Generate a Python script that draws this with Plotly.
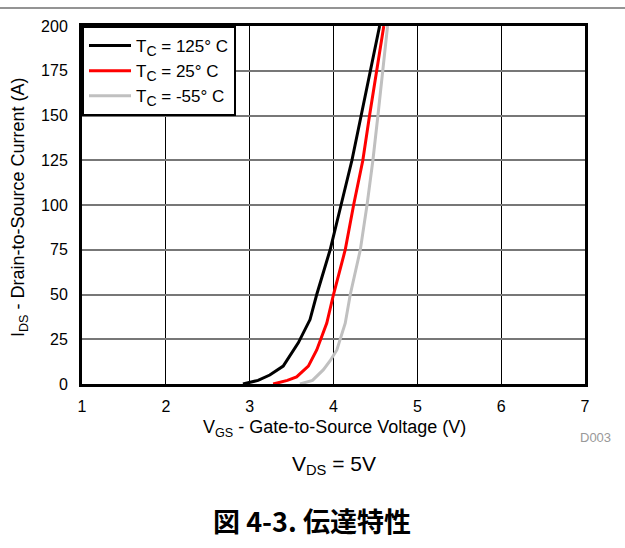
import plotly.graph_objects as go

# Data (VGS in V, IDS in A)
vgs_125 = [2.92, 3.10, 3.24, 3.40, 3.58, 3.72, 3.80, 3.96, 4.09, 4.22, 4.33, 4.44, 4.55]
ids_125 = [0, 2, 5, 10, 23, 36, 50, 75, 100, 125, 150, 175, 200]

vgs_25 = [3.28, 3.45, 3.56, 3.70, 3.80, 3.92, 4.00, 4.14, 4.24, 4.35, 4.43, 4.515, 4.60]
ids_25 = [0, 2, 4, 10, 19, 34, 50, 75, 100, 125, 150, 175, 200]

vgs_m55 = [3.60, 3.75, 3.88, 3.96, 4.04, 4.14, 4.20, 4.32, 4.40, 4.47, 4.53, 4.59, 4.645]
ids_m55 = [0, 2, 8, 13, 19, 34, 50, 75, 100, 125, 150, 175, 200]

SUB = "<sub><span style='font-size:14px'>C</span></sub>"
series_names = ["T" + SUB + " = 125° C", "T" + SUB + " = 25° C", "T" + SUB + " = -55° C"]
series_colors = ["#000000", "#ff0000", "#c0c0c0"]

x_ticks = [1, 2, 3, 4, 5, 6, 7]
y_ticks = [0, 25, 50, 75, 100, 125, 150, 175, 200]

FONT = "Liberation Sans, Arial, sans-serif"

fig = go.Figure()
for xs, ys, name, col in zip([vgs_125, vgs_25, vgs_m55], [ids_125, ids_25, ids_m55], series_names, series_colors):
    fig.add_trace(go.Scatter(x=xs, y=ys, mode="lines", name=name,
                             line=dict(color=col, width=3), cliponaxis=True))

L, R, T, B = 82, 40, 26, 164
W, H = 625, 548
pw, ph = W - L - R, H - T - B

def px_x(px):
    return (px - L) / pw

def px_y(py):
    return (H - B - py) / ph

fig.update_layout(
    width=W, height=H,
    margin=dict(l=L, r=R, t=T, b=B, pad=0),
    paper_bgcolor="white", plot_bgcolor="white",
    font=dict(family=FONT, size=16, color="black"),
    showlegend=True,
    legend=dict(x=0, y=1, xanchor="left", yanchor="top",
                bgcolor="white", bordercolor="black", borderwidth=2,
                font=dict(family=FONT, size=17, color="black"),
                tracegroupgap=0, itemwidth=42),
    xaxis=dict(range=[1, 7], tickvals=x_ticks, ticktext=[str(v) for v in x_ticks],
               showgrid=True, gridcolor="#000000", gridwidth=1,
               showline=True, linecolor="black", linewidth=3, mirror=True,
               ticks="", zeroline=False, ticklabelstandoff=6,
               tickfont=dict(size=16)),
    yaxis=dict(range=[0, 200], tickvals=y_ticks, ticktext=[str(v) for v in y_ticks],
               showgrid=True, gridcolor="#777777", gridwidth=1.5,
               showline=True, linecolor="black", linewidth=3, mirror=True,
               ticks="", zeroline=False, ticklabelstandoff=8,
               tickfont=dict(size=16)),
)

annotations = [
    dict(text="V<sub>GS</sub> - Gate-to-Source Voltage (V)", x=px_x(334), y=px_y(428),
         font=dict(size=18)),
    dict(text="I<sub>DS</sub> - Drain-to-Source Current (A)", x=px_x(19), y=px_y(207),
         textangle=-90, font=dict(size=18)),
    dict(text="D003", x=px_x(595), y=px_y(437), font=dict(size=13, color="#999999")),
    dict(text="V<sub>DS</sub> = 5V", x=px_x(334), y=px_y(465), font=dict(size=21)),
    dict(text="<b>図 4-3. 伝達特性</b>", x=px_x(312), y=px_y(520),
         font=dict(size=27, family="Noto Sans CJK JP")),
]
for a in annotations:
    fig.add_annotation(xref="paper", yref="paper", showarrow=False,
                       xanchor="center", yanchor="middle", **a)

fig.add_shape(type="line", xref="paper", yref="paper",
              x0=px_x(0), x1=px_x(W), y0=px_y(8), y1=px_y(8),
              line=dict(color="#707070", width=1.5))

fig.write_html("out.html")
